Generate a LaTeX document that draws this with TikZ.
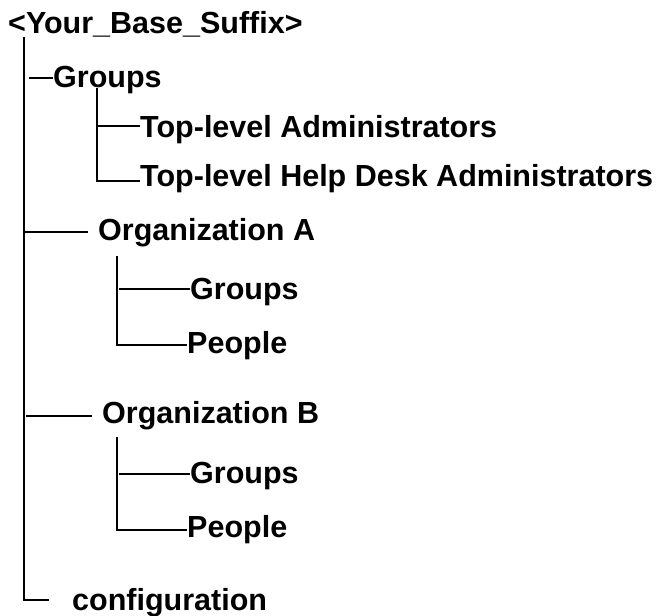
\documentclass[tikz,border=0pt]{standalone}
\usepackage{fontspec}
\setmainfont{Liberation Sans}
\begin{document}
\begin{tikzpicture}[x=1pt,y=-1pt,
  entry/.style={anchor=base west, inner sep=0pt, font=\fontsize{30.5}{36}\selectfont\bfseries},
  branch/.style={line width=1.7pt, line cap=rect}]
\useasboundingbox[fill=white] (0,0) rectangle (657,616);

% directory entries
\node[entry] (root)   at (8,33)   {<Your\_Base\_Suffix>};
\node[entry] (grp)    at (53,87)  {Groups};
\node[entry] (tadm)   at (140,137){Top-level Administrators};
\node[entry] (thelp)  at (140,186){Top-level Help Desk Administrators};
\node[entry] (orga)   at (98,240) {Organization A};
\node[entry] (agrp)   at (190,299){Groups};
\node[entry] (apeo)   at (187,353){People};
\node[entry] (orgb)   at (102,423){Organization B};
\node[entry] (bgrp)   at (190,483){Groups};
\node[entry] (bpeo)   at (187,537){People};
\node[entry] (conf)   at (72,610) {configuration};

% connector end points
\coordinate (trunkTop) at (24,38);
\coordinate (trunkBot) at (24,600);
\coordinate (confEnd)  at (48,600);
\coordinate (grpA) at (30,78);  \coordinate (grpB) at (52,78);
\coordinate (gTop) at (97,89);  \coordinate (gBot) at (97,181);
\coordinate (gMid) at (97,126); \coordinate (tadmEnd) at (139,126);
\coordinate (thelpEnd) at (139,181);
\coordinate (oaA) at (24,232);  \coordinate (oaB) at (87,232);
\coordinate (aTop) at (117,257); \coordinate (aBot) at (117,345);
\coordinate (aMid) at (120,289); \coordinate (agrpEnd) at (189,289);
\coordinate (apeoEnd) at (186,345);
\coordinate (obA) at (27,416);  \coordinate (obB) at (91,416);
\coordinate (bTop) at (117,438); \coordinate (bBot) at (117,530);
\coordinate (bMid) at (120,474); \coordinate (bgrpEnd) at (189,474);
\coordinate (bpeoEnd) at (186,530);

% tree lines
\draw[branch] (trunkTop) -- (trunkBot) -- (confEnd);
\draw[branch] (grpA) -- (grpB);
\draw[branch] (gTop) -- (gBot) -- (thelpEnd);
\draw[branch] (gMid) -- (tadmEnd);
\draw[branch] (oaA) -- (oaB);
\draw[branch] (aTop) -- (aBot) -- (apeoEnd);
\draw[branch] (aMid) -- (agrpEnd);
\draw[branch] (obA) -- (obB);
\draw[branch] (bTop) -- (bBot) -- (bpeoEnd);
\draw[branch] (bMid) -- (bgrpEnd);
\end{tikzpicture}
\end{document}
